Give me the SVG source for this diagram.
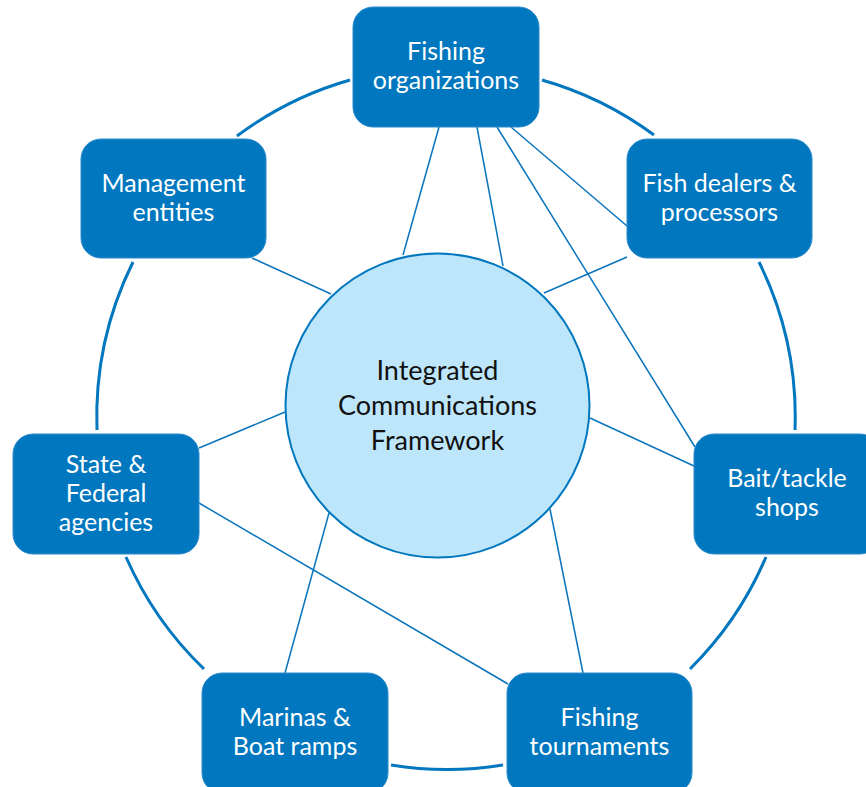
<svg xmlns="http://www.w3.org/2000/svg" width="866" height="787" viewBox="0 0 866 787">
<style>
.ring{fill:none;stroke:#0077BE;stroke-width:3}
.con{stroke:#0A74BC;stroke-width:1.5;fill:none}
.node rect{fill:#0077BE;stroke:#2C8BCB;stroke-width:1}
.node text{font-family:Lato,"Liberation Sans",sans-serif;font-size:25px;fill:#FFFFFF;text-anchor:middle}
.hub circle{fill:#BEE6FA;stroke:#0077BE;stroke-width:2}
.hub text{font-family:Lato,"Liberation Sans",sans-serif;font-size:27px;fill:#111111;text-anchor:middle}
</style>
<rect width="866" height="787" fill="#FFFFFF"/>
<g id="ring">
<path class="ring" d="M237,136 A350,350 0 0 1 350,80"/>
<path class="ring" d="M542,80 A350,350 0 0 1 654,135"/>
<path class="ring" d="M759,262 A350,350 0 0 1 795,430"/>
<path class="ring" d="M766,557 A350,350 0 0 1 690,669"/>
<path class="ring" d="M503,765 A350,350 0 0 1 391,765"/>
<path class="ring" d="M204,669 A350,350 0 0 1 126,557"/>
<path class="ring" d="M97,430 A350,350 0 0 1 133,262"/>
</g>
<g id="connectors">
<line class="con" x1="252" y1="258" x2="331" y2="294"/>
<line class="con" x1="439" y1="127" x2="403" y2="255"/>
<line class="con" x1="477" y1="127" x2="503" y2="266"/>
<line class="con" x1="497" y1="127" x2="695" y2="447"/>
<line class="con" x1="511" y1="127" x2="627" y2="226"/>
<line class="con" x1="627" y1="257" x2="544" y2="293"/>
<line class="con" x1="694" y1="466" x2="590" y2="418"/>
<line class="con" x1="199" y1="448" x2="285" y2="412"/>
<line class="con" x1="199" y1="503" x2="508" y2="684"/>
<line class="con" x1="285" y1="673" x2="329" y2="513"/>
<line class="con" x1="583" y1="673" x2="550" y2="509"/>
</g>
<g id="hub" class="hub">
<circle cx="437.5" cy="405.5" r="152"/>
<text x="437.5" y="380">Integrated</text>
<text x="437.5" y="415">Communications</text>
<text x="437.5" y="450">Framework</text>
</g>
<g id="fishing-organizations" class="node">
<rect x="353" y="7" width="186" height="120" rx="20"/>
<text x="446" y="60">Fishing</text>
<text x="446" y="89">organizations</text>
</g>
<g id="management-entities" class="node">
<rect x="81" y="139" width="185" height="119" rx="20"/>
<text x="173.5" y="192">Management</text>
<text x="173.5" y="221">entities</text>
</g>
<g id="fish-dealers" class="node">
<rect x="627" y="139" width="185" height="119" rx="20"/>
<text x="719.5" y="192">Fish dealers &amp;</text>
<text x="719.5" y="221">processors</text>
</g>
<g id="state-federal" class="node">
<rect x="13" y="434" width="186" height="120" rx="20"/>
<text x="106" y="473">State &amp;</text>
<text x="106" y="502">Federal</text>
<text x="106" y="531">agencies</text>
</g>
<g id="bait-tackle" class="node">
<rect x="694" y="434" width="186" height="120" rx="20"/>
<text x="787" y="487">Bait/tackle</text>
<text x="787" y="516">shops</text>
</g>
<g id="marinas" class="node">
<rect x="202" y="673" width="186" height="120" rx="20"/>
<text x="295" y="726">Marinas &amp;</text>
<text x="295" y="755">Boat ramps</text>
</g>
<g id="fishing-tournaments" class="node">
<rect x="507" y="673" width="185" height="120" rx="20"/>
<text x="599.5" y="726">Fishing</text>
<text x="599.5" y="755">tournaments</text>
</g>
</svg>
